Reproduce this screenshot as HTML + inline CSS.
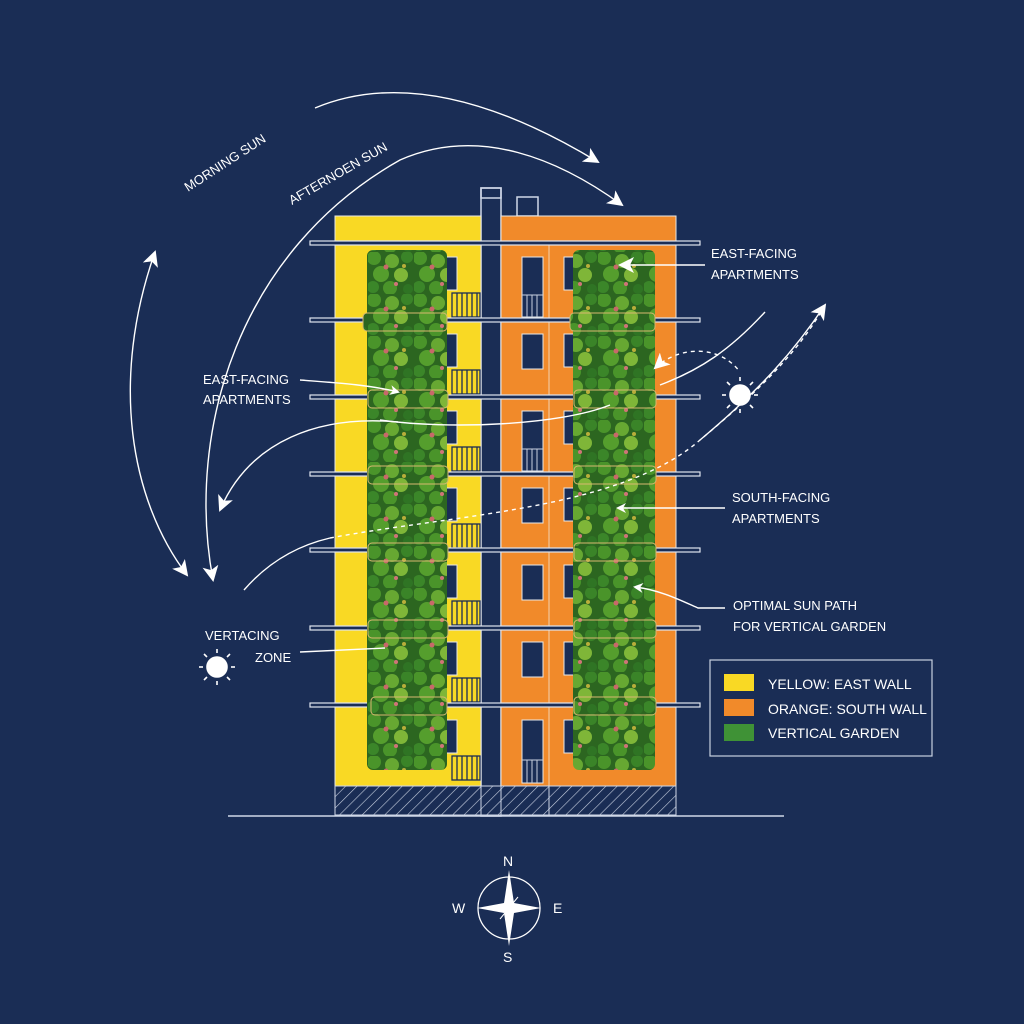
<!DOCTYPE html>
<html><head><meta charset="utf-8"><style>
html,body{margin:0;padding:0;background:#1a2d55;}
svg{display:block}
text{font-family:"Liberation Sans",sans-serif;fill:#fff}
</style></head><body>
<svg width="1024" height="1024" viewBox="0 0 1024 1024" xmlns="http://www.w3.org/2000/svg">
<defs>
<pattern id="fol" width="46" height="42" patternUnits="userSpaceOnUse">
<rect width="46" height="42" fill="#2c6620"/>
<circle cx="6" cy="6" r="7" fill="#4a942a"/>
<circle cx="24" cy="9" r="7" fill="#67a832"/>
<circle cx="39" cy="5" r="6" fill="#3a8428"/>
<circle cx="13" cy="22" r="8" fill="#559e2d"/>
<circle cx="33" cy="23" r="7" fill="#7fb638"/>
<circle cx="5" cy="35" r="6" fill="#3b8629"/>
<circle cx="22" cy="36" r="7" fill="#4a942a"/>
<circle cx="40" cy="37" r="5" fill="#2f7424"/>
<circle cx="18" cy="15" r="2.5" fill="#c8686a"/>
<circle cx="36" cy="14" r="2" fill="#b9ae3a"/>
<circle cx="28" cy="32" r="2" fill="#d07478"/>
</pattern>
<pattern id="hatch" width="8" height="8" patternUnits="userSpaceOnUse" patternTransform="rotate(45)">
<rect width="8" height="8" fill="#1a2d55"/>
<line x1="0" y1="0" x2="0" y2="8" stroke="#c8d0e0" stroke-width="1.2"/>
</pattern>
<marker id="ah" markerWidth="10" markerHeight="10" refX="8" refY="5" orient="auto" markerUnits="userSpaceOnUse">
<path d="M0,0 L10,5 L0,10 L3,5z" fill="#fff"/>
</marker>
<marker id="ahs" markerWidth="16" markerHeight="16" refX="14" refY="8" orient="auto-start-reverse" markerUnits="userSpaceOnUse">
<path d="M0,0 L16,8 L0,16 L4,8z" fill="#fff"/>
</marker>
</defs>
<rect width="1024" height="1024" fill="#1a2d55"/>

<rect x="481" y="188" width="20" height="628" fill="#1a2d55" stroke="#d0d8e8" stroke-width="1.5"/>
<rect x="481" y="188" width="20" height="10" fill="none" stroke="#d0d8e8" stroke-width="1.5"/>
<rect x="517" y="197" width="21" height="19" fill="none" stroke="#d0d8e8" stroke-width="1.5"/>
<rect x="335" y="216" width="146" height="570" fill="#f9d924" stroke="#e8e8e8" stroke-width="1"/>
<rect x="501" y="216" width="175" height="570" fill="#f18a2a" stroke="#e8e8e8" stroke-width="1"/>
<line x1="549" y1="243" x2="549" y2="816" stroke="#f3d2b0" stroke-width="1"/>
<rect x="335" y="786" width="341" height="29" fill="url(#hatch)" stroke="#d0d8e8" stroke-width="1"/>
<line x1="481" y1="786" x2="481" y2="815" stroke="#d0d8e8"/><line x1="501" y1="786" x2="501" y2="815" stroke="#d0d8e8"/><line x1="549" y1="786" x2="549" y2="815" stroke="#d0d8e8"/>
<line x1="228" y1="816" x2="784" y2="816" stroke="#d0d8e8" stroke-width="1.5"/>

<g fill="#1a2d55" stroke="#e8e8e8" stroke-width="1">
<rect x="446" y="257" width="11" height="33"/><rect x="446" y="334" width="11" height="33"/><rect x="446" y="411" width="11" height="33"/><rect x="446" y="488" width="11" height="33"/><rect x="446" y="565" width="11" height="33"/><rect x="446" y="642" width="11" height="33"/><rect x="446" y="720" width="11" height="33"/>
<rect x="522" y="257" width="21" height="60"/><rect x="522" y="334" width="21" height="35"/><rect x="522" y="411" width="21" height="60"/><rect x="522" y="488" width="21" height="35"/><rect x="522" y="565" width="21" height="35"/><rect x="522" y="642" width="21" height="35"/><rect x="522" y="720" width="21" height="63"/>
<rect x="564" y="257" width="12" height="33"/><rect x="564" y="334" width="12" height="33"/><rect x="564" y="411" width="12" height="33"/><rect x="564" y="488" width="12" height="33"/><rect x="564" y="565" width="12" height="33"/><rect x="564" y="642" width="12" height="33"/><rect x="564" y="720" width="12" height="33"/>
</g>
<g fill="none" stroke="#1a2d55" stroke-width="1.3">
<g id="bal"><rect x="452" y="293" width="28" height="24"/><line x1="457" y1="293" x2="457" y2="317"/><line x1="462" y1="293" x2="462" y2="317"/><line x1="467" y1="293" x2="467" y2="317"/><line x1="472" y1="293" x2="472" y2="317"/><line x1="477" y1="293" x2="477" y2="317"/></g>
<use href="#bal" y="77"/><use href="#bal" y="154"/><use href="#bal" y="231"/><use href="#bal" y="308"/><use href="#bal" y="385"/><use href="#bal" y="463"/>
</g>
<g stroke="#c8d0e0" stroke-width="1"><line x1="527" y1="295" x2="527" y2="317"/><line x1="532" y1="295" x2="532" y2="317"/><line x1="537" y1="295" x2="537" y2="317"/><line x1="522" y1="295" x2="543" y2="295"/>
<line x1="527" y1="449" x2="527" y2="471"/><line x1="532" y1="449" x2="532" y2="471"/><line x1="537" y1="449" x2="537" y2="471"/><line x1="522" y1="449" x2="543" y2="449"/>
<line x1="527" y1="760" x2="527" y2="783"/><line x1="532" y1="760" x2="532" y2="783"/><line x1="537" y1="760" x2="537" y2="783"/><line x1="522" y1="760" x2="543" y2="760"/></g>

<g fill="#1a2d55" stroke="#dfe4ee" stroke-width="1.2">
<rect x="310" y="241" width="390" height="4"/><rect x="310" y="318" width="390" height="4"/><rect x="310" y="395" width="390" height="4"/><rect x="310" y="472" width="390" height="4"/><rect x="310" y="548" width="390" height="4"/><rect x="310" y="626" width="390" height="4"/><rect x="310" y="703" width="390" height="4"/>
</g>

<rect x="367" y="250" width="80" height="520" rx="6" fill="url(#fol)"/>
<rect x="573" y="250" width="82" height="520" rx="6" fill="url(#fol)"/>
<g fill="url(#fol)" stroke="#d8b870" stroke-width="1">
<rect x="363" y="313" width="84" height="18" rx="4"/><rect x="368" y="390" width="80" height="18" rx="4"/><rect x="368" y="466" width="80" height="18" rx="4"/><rect x="368" y="543" width="80" height="18" rx="4"/><rect x="368" y="620" width="80" height="18" rx="4"/><rect x="371" y="697" width="76" height="18" rx="4"/>
<rect x="570" y="313" width="85" height="18" rx="4"/><rect x="574" y="390" width="82" height="18" rx="4"/><rect x="574" y="466" width="82" height="18" rx="4"/><rect x="574" y="543" width="82" height="18" rx="4"/><rect x="574" y="620" width="82" height="18" rx="4"/><rect x="574" y="697" width="82" height="18" rx="4"/>
</g>

<g fill="none" stroke="#fff" stroke-width="1.4">
<path d="M315,108 Q430,60 598,162" marker-end="url(#ahs)"/>
<path d="M213,580 C185,430 240,250 400,160 C480,125 560,160 622,205" marker-start="url(#ahs)" marker-end="url(#ahs)"/>
<path d="M155,252 C110,380 130,500 187,575" marker-start="url(#ahs)" marker-end="url(#ahs)"/>
<path d="M398,422 C320,415 250,440 220,510" marker-end="url(#ahs)"/>
<path d="M244,590 C270,560 300,545 330,538"/>
<path d="M330,538 C450,515 620,510 700,440 C760,390 800,350 825,305" stroke-dasharray="4,4"/>
<path d="M700,440 C760,390 795,350 825,305" marker-end="url(#ahs)"/>
<path d="M655,368 C680,345 720,345 740,372" stroke-dasharray="4,4" marker-start="url(#ahs)"/>
<path d="M765,312 C730,350 700,370 660,385"/>
<path d="M380,420 C450,430 560,425 610,405"/>
<path d="M705,265 L620,265" marker-end="url(#ahs)"/>
<path d="M300,380 C340,383 370,385 398,392" marker-end="url(#ah)"/>
<path d="M725,508 L618,508" marker-end="url(#ah)"/>
<path d="M725,608 L698,608 C680,600 660,590 635,587" marker-end="url(#ah)"/>
<path d="M300,652 L385,648"/>
</g>

<g stroke="#fff" stroke-width="1.6">
<circle cx="217" cy="667" r="10" fill="#fff"/>
<g id="rays1"><line x1="217" y1="649" x2="217" y2="653"/><line x1="217" y1="681" x2="217" y2="685"/><line x1="199" y1="667" x2="203" y2="667"/><line x1="231" y1="667" x2="235" y2="667"/><line x1="204" y1="654" x2="207" y2="657"/><line x1="227" y1="677" x2="230" y2="680"/><line x1="230" y1="654" x2="227" y2="657"/><line x1="204" y1="680" x2="207" y2="677"/></g>
<circle cx="740" cy="395" r="10" fill="#fff"/>
<use href="#rays1" x="523" y="-272"/>
</g>

<text x="0" y="0" font-size="13" transform="translate(188,192) rotate(-33)">MORNING SUN</text>
<text x="0" y="0" font-size="13" transform="translate(292,205) rotate(-30)">AFTERNOEN SUN</text>
<g font-size="13">
<text x="203" y="384">EAST-FACING</text><text x="203" y="404">APARTMENTS</text>
<text x="711" y="258">EAST-FACING</text><text x="711" y="279">APARTMENTS</text>
<text x="732" y="502">SOUTH-FACING</text><text x="732" y="523">APARTMENTS</text>
<text x="733" y="610">OPTIMAL SUN PATH</text><text x="733" y="631">FOR VERTICAL GARDEN</text>
<text x="205" y="640">VERTACING</text><text x="255" y="662">ZONE</text>
</g>

<rect x="710" y="660" width="222" height="96" fill="none" stroke="#c8d0e0" stroke-width="1.2"/>
<rect x="724" y="674" width="30" height="17" fill="#f9d924"/>
<rect x="724" y="699" width="30" height="17" fill="#f18a2a"/>
<rect x="724" y="724" width="30" height="17" fill="#3f9236"/>
<g font-size="14"><text x="768" y="689">YELLOW: EAST WALL</text><text x="768" y="714">ORANGE: SOUTH WALL</text><text x="768" y="738">VERTICAL GARDEN</text></g>

<circle cx="509" cy="908" r="31" fill="none" stroke="#fff" stroke-width="1.3"/>
<path d="M509,870 L514,903 L509,908 L504,903z M509,946 L514,913 L509,908 L504,913z M477,908 L504,903 L509,908 L504,913z M541,908 L514,903 L509,908 L514,913z" fill="#fff"/>
<path d="M509,908 L518,897 M509,908 L500,919" stroke="#fff" stroke-width="1"/>
<text x="503" y="866" font-size="14">N</text>
<text x="503" y="962" font-size="14">S</text>
<text x="452" y="913" font-size="14">W</text>
<text x="553" y="913" font-size="14">E</text>
</svg>
</body></html>
